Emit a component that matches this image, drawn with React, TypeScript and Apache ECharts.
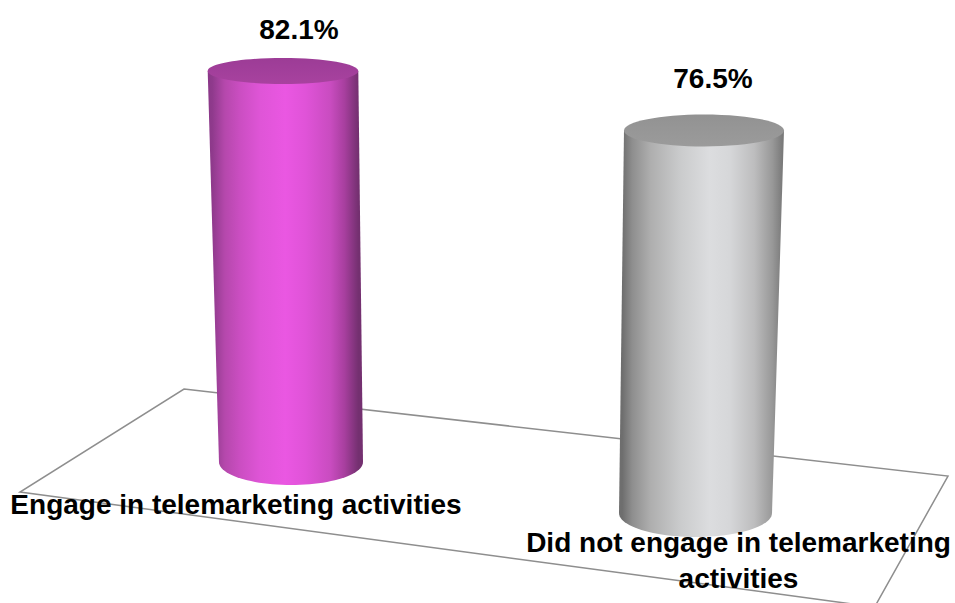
import React, { useEffect, useRef } from "react";
import * as echarts from "echarts";

const categories = ["Engage in telemarketing activities", "Did not engage in telemarketing\nactivities"];
const values = [82.1, 76.5];

// Perspective styling of each cylinder (not data)
const cylinderLook = [
  {
    scale: 1, baseShift: 0, topShift: -8, rxTop: 75.3, ryTop: 13, rxBase: 72, ryBase: 23,
    top: "#a8429f", topEdge: "#9c3c96",
    stopAt: [0, 0.03, 0.11, 0.21, 0.34, 0.5, 0.63, 0.79, 0.88, 0.97, 1],
    stops: ["#8a3888", "#8f3a8c", "#b548ac", "#cb4ec2", "#df55d7", "#ea57e2", "#e053d8", "#c94cc0", "#a83f9f", "#743070", "#743070"],
    valueLabel: [16, -41], catLabel: [-55, 42],
  },
  {
    scale: 1.05, baseShift: 51, topShift: 8.5, rxTop: 80, ryTop: 16, rxBase: 76.5, ryBase: 24,
    top: "#9b9b9b", topEdge: "#929292",
    stopAt: [0, 0.02, 0.08, 0.19, 0.37, 0.55, 0.67, 0.82, 0.93, 0.99, 1],
    stops: ["#6e6e6e", "#6e6e6e", "#8e8e8e", "#aeaeae", "#cacbcc", "#dcdddf", "#d6d7d9", "#bdbdbe", "#989898", "#7a7a7a", "#7a7a7a"],
    valueLabel: [9, -52], catLabel: [43, 47],
  },
];

const floor = [[184, 389], [948, 476], [874.6, 607], [20, 492]];
const font = "'Liberation Sans', Arial, sans-serif";

const arc = (cx: number, cy: number, rx: number, ry: number, a0: number, a1: number, n = 48) => {
  const pts: number[][] = [];
  for (let i = 0; i <= n; i++) {
    const a = a0 + ((a1 - a0) * i) / n;
    pts.push([cx + rx * Math.cos(a), cy + ry * Math.sin(a)]);
  }
  return pts;
};

export default function App() {
  const ref = useRef<HTMLDivElement>(null);
  useEffect(() => {
    const chart = echarts.init(ref.current!, null, { renderer: "svg" });
    chart.setOption({
      animation: false,
      backgroundColor: "#ffffff",
      grid: { left: 88.75, width: 809, top: 0, height: 462 },
      xAxis: { type: "category", data: categories, show: false },
      yAxis: { type: "value", min: 0, max: 97, show: false },
      graphic: [
        {
          type: "polygon",
          z: -1,
          shape: { points: floor },
          style: { fill: "none", stroke: "#8e8e8e", lineWidth: 1.5 },
        },
      ],
      series: [
        {
          type: "custom",
          coordinateSystem: "cartesian2d",
          clip: false,
          data: values.map((v, i) => [i, v]),
          encode: { x: 0, y: 1 },
          renderItem: (params: any, api: any) => {
            const i = api.value(0);
            const v = api.value(1);
            const look = cylinderLook[i];
            const [cx, zeroY] = api.coord([i, 0]);
            const [, valY] = api.coord([i, v]);
            const baseY = zeroY + look.baseShift;
            const topY = baseY - (zeroY - valY) * look.scale;
            const topX = cx + look.topShift;
            const body = [
              [topX - look.rxTop, topY],
              [topX + look.rxTop, topY],
              ...arc(cx, baseY, look.rxBase, look.ryBase, 0, Math.PI),
            ];
            return {
              type: "group",
              children: [
                {
                  type: "polygon",
                  shape: { points: body },
                  style: {
                    fill: new echarts.graphic.LinearGradient(0, 0, 1, 0,
                      look.stops.map((color: string, k: number) => ({ offset: look.stopAt[k], color }))),
                  },
                },
                {
                  type: "ellipse",
                  shape: { cx: topX, cy: topY, rx: look.rxTop, ry: look.ryTop },
                  style: {
                    fill: new echarts.graphic.LinearGradient(0, 0, 0, 1, [
                      { offset: 0, color: look.topEdge },
                      { offset: 1, color: look.top },
                    ]),
                  },
                },
                {
                  type: "text",
                  x: topX + look.valueLabel[0],
                  y: topY + look.valueLabel[1],
                  style: {
                    text: `${v.toFixed(1)}%`,
                    fill: "#000000",
                    font: `bold 28px ${font}`,
                    align: "center",
                    verticalAlign: "middle",
                  },
                },
                {
                  type: "text",
                  x: cx + look.catLabel[0],
                  y: baseY + look.catLabel[1],
                  z2: 10,
                  style: {
                    text: categories[i],
                    fill: "#000000",
                    font: `bold 28px ${font}`,
                    lineHeight: 36,
                    align: "center",
                    verticalAlign: "top",
                    textVerticalAlign: "middle",
                  },
                },
              ],
            };
          },
        },
      ],
    });
    return () => chart.dispose();
  }, []);
  return <div ref={ref} style={{ position: "absolute", left: 0, top: 0, width: 955, height: 603, overflow: "hidden" }} />;
}
